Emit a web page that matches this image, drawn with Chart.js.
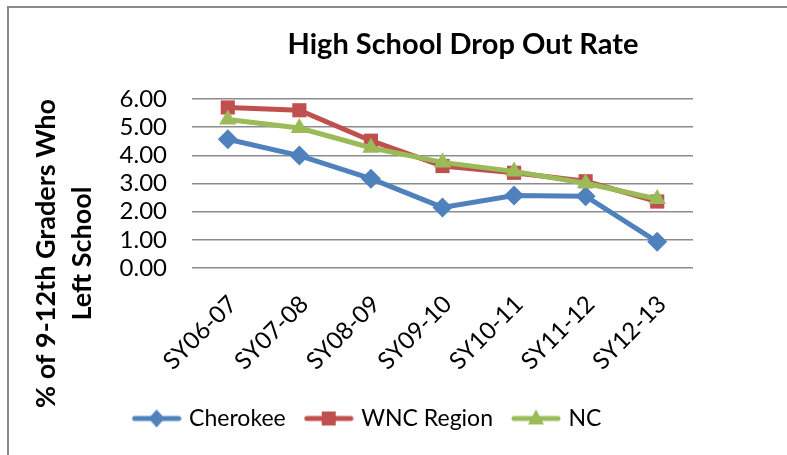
<!DOCTYPE html>
<html>
<head>
<meta charset="utf-8">
<script src="https://cdn.jsdelivr.net/npm/chart.js@4"></script>
<style>
  body { margin: 0; background: #fff; }
  #wrap { position: relative; width: 787px; height: 455px; overflow: hidden; }
  #frame { position: absolute; left: 7px; top: 6px; width: 900px; height: 600px; border: 2px solid #8a8a8a; pointer-events: none; }
  canvas { position: absolute; left: 0; top: 0; }
</style>
</head>
<body>
<div id="wrap">
  <div id="frame"></div>
  <canvas id="chart" width="787" height="455"></canvas>
</div>
<script>
// chart data
const years = ["SY06-07", "SY07-08", "SY08-09", "SY09-10", "SY10-11", "SY11-12", "SY12-13"];
const cherokee = [4.57, 3.99, 3.17, 2.15, 2.57, 2.55, 0.93];
const wncRegion = [5.70, 5.60, 4.52, 3.62, 3.38, 3.08, 2.36];
const ncState = [5.27, 4.97, 4.27, 3.75, 3.43, 3.01, 2.45];
const yTicks = [0, 1, 2, 3, 4, 5, 6];

const fontName = 'Lato, "Open Sans", sans-serif';

// legend icon = line with the marker in the middle
function legendIcon(color, shape) {
    const c = document.createElement('canvas');
    c.width = 50; c.height = 22;
    const g = c.getContext('2d');
    g.strokeStyle = color;
    g.lineWidth = 5;
    g.lineCap = 'round';
    g.beginPath(); g.moveTo(3, 11); g.lineTo(47, 11); g.stroke();
    g.fillStyle = color;
    g.beginPath();
    if (shape === 'diamond') {
        g.moveTo(25, 2); g.lineTo(33, 11); g.lineTo(25, 20); g.lineTo(17, 11);
    } else if (shape === 'square') {
        g.rect(18, 4, 14, 14);
    } else {
        g.moveTo(25, 2); g.lineTo(33, 17); g.lineTo(17, 17);
    }
    g.closePath(); g.fill();
    return c;
}

// later series sit on top, like in the original
const series = [
    { label: 'Cherokee', data: cherokee, color: '#4F81BD', style: 'rectRot', radius: 10, icon: 'diamond', order: 2 },
    { label: 'WNC Region', data: wncRegion, color: '#C0504D', style: 'rect', radius: 10, icon: 'square', order: 1 },
    { label: 'NC', data: ncState, color: '#9BBB59', style: 'triangle', radius: 10, icon: 'triangle', order: 0 }
];

const yTitleShift = 70;

// nudge title, legend and the y axis title to where they sit in the original
const placeBlocks = {
    id: 'placeBlocks',
    afterLayout(chart) {
        chart.titleBlock.left = 139;
        chart.titleBlock.right = 787;
        chart.legend.left += 8;
        chart.legend.right += 8;
    },
    // the y title is centred on top/bottom, so move those only while the scale draws
    beforeDraw(chart) {
        chart.scales.y.top += yTitleShift;
        chart.scales.y.bottom += yTitleShift;
    },
    beforeDatasetsDraw(chart) {
        chart.scales.y.top -= yTitleShift;
        chart.scales.y.bottom -= yTitleShift;
    }
};

new Chart(document.getElementById('chart'), {
    type: 'line',
    data: {
        labels: years,
        datasets: series.map(s => ({
            label: s.label,
            data: s.data,
            order: s.order,
            borderColor: s.color,
            backgroundColor: s.color,
            borderWidth: 5,
            pointStyle: s.style,
            pointRadius: s.radius,
            pointHoverRadius: s.radius,
            pointBorderWidth: 0,
            tension: 0,
            legendIcon: legendIcon(s.color, s.icon)
        }))
    },
    options: {
        responsive: false,
        animation: false,
        layout: { padding: { left: 28, right: 94, top: 0, bottom: 15 } },
        plugins: {
            title: {
                display: true,
                text: 'High School Drop Out Rate',
                color: '#000',
                font: { family: fontName, size: 29, weight: 'bold', lineHeight: 1.2 },
                padding: { top: 27, bottom: 37.2 }
            },
            legend: {
                position: 'bottom',
                labels: {
                    color: '#000',
                    font: { family: fontName, size: 23 },
                    usePointStyle: true,
                    pointStyleWidth: 42,
                    padding: 22,
                    generateLabels(chart) {
                        return chart.data.datasets.map((ds, i) => ({
                            text: ds.label,
                            pointStyle: ds.legendIcon,
                            fillStyle: ds.borderColor,
                            strokeStyle: ds.borderColor,
                            lineWidth: 0,
                            datasetIndex: i
                        }));
                    }
                }
            },
            tooltip: { enabled: false }
        },
        scales: {
            x: {
                offset: true,
                grid: { display: false, offset: true },
                border: { display: false },
                ticks: {
                    color: '#000',
                    font: { family: fontName, size: 24 },
                    maxRotation: 45,
                    minRotation: 45,
                    autoSkip: false,
                    labelOffset: 5,
                    padding: 14
                },
                afterFit(scale) { scale.height = 117; }
            },
            y: {
                min: 0,
                max: 6,
                afterBuildTicks(scale) { scale.ticks = yTicks.map(v => ({ value: v })); },
                grid: { color: '#8c8c8c', lineWidth: 1.5, drawTicks: false },
                border: { display: false },
                ticks: {
                    color: '#000',
                    font: { family: fontName, size: 24, lineHeight: 1 },
                    padding: 25,
                    autoSkip: false,
                    callback: v => v.toFixed(2)
                },
                title: {
                    display: true,
                    text: ['% of 9-12th Graders Who', 'Left School'],
                    color: '#000',
                    font: { family: fontName, size: 27, weight: 'bold', lineHeight: 1.33 },
                    padding: { top: 0, bottom: 0 }
                },
                afterFit(scale) { scale.width = 164; }
            }
        }
    },
    plugins: [placeBlocks]
});
</script>
</body>
</html>
